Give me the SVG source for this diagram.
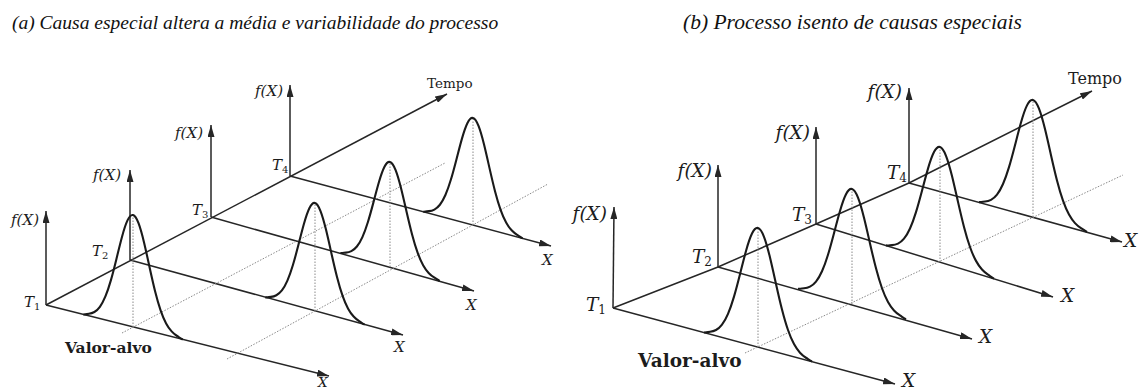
<svg xmlns="http://www.w3.org/2000/svg" width="1140" height="391" viewBox="0 0 1140 391">
<defs>
<style>
.axa{stroke:#262626;stroke-width:1.5;fill:none;marker-end:url(#ah)}
.cv{stroke:#1a1a1a;stroke-width:2.1;fill:none}
.dt{stroke:#8a8a8a;stroke-width:1;stroke-dasharray:1.5 1.5;fill:none}
.lab{font-family:"DejaVu Serif","Liberation Serif",serif;fill:#1c1c1c}
.it{font-style:italic}
.fa{font-size:15px}
.fb{font-size:18.5px}
.sa{font-size:10px;font-style:normal}
.sb{font-size:12px;font-style:normal}
.title{font-family:"Liberation Serif","Times New Roman",serif;font-style:italic;fill:#111}
.va{font-weight:bold}
</style>
<marker id="ah" markerUnits="userSpaceOnUse" markerWidth="13" markerHeight="7" refX="12" refY="3.5" orient="auto"><path d="M0,0 L12,3.5 L0,7 z" fill="#262626"/></marker>
<path id="bell" vector-effect="non-scaling-stroke" d="M-54,0 C-52,-0.3 -50,-1.24 -48,-1.86 C-46,-2.48 -44,-3.36 -42,-4.73 C-40,-6.10 -38,-7.97 -36,-10.62 C-34,-13.27 -32,-16.70 -30,-21.08 C-28,-25.46 -26,-30.79 -24,-36.92 C-22,-43.05 -20,-49.98 -18,-57.09 C-16,-64.20 -14,-71.48 -12,-77.95 C-10,-84.42 -8,-90.06 -6,-93.96 C-4,-97.86 -2,-100 0,-100 C2,-100 4,-97.86 6,-93.96 C8,-90.06 10,-84.42 12,-77.95 C14,-71.48 16,-64.20 18,-57.09 C20,-49.98 22,-43.05 24,-36.92 C26,-30.79 28,-25.46 30,-21.08 C32,-16.70 34,-13.27 36,-10.62 C38,-7.97 40,-6.10 42,-4.73 C44,-3.36 46,-2.48 48,-1.86 C50,-1.24 52,-0.3 54,0"/>
</defs>
<rect width="1140" height="391" fill="#ffffff"/>

<g id="titles">
<text class="title" x="12" y="29" font-size="19.5">(a) Causa especial altera a média e variabilidade do processo</text>
<text class="title" x="683" y="29" font-size="21.5">(b) Processo isento de causas especiais</text>
</g>

<!-- Panel (a) -->
<g id="panel-a">
<g id="a-connectors">
<line class="axa" x1="46" y1="305" x2="447" y2="94"/>
<line class="axa" x1="46" y1="305" x2="46" y2="211"/>
<line class="axa" x1="130" y1="260" x2="130" y2="170"/>
<line class="axa" x1="211" y1="217" x2="211" y2="125"/>
<line class="axa" x1="290" y1="176" x2="290" y2="85"/>
<line class="axa" x1="46" y1="305" x2="329" y2="376"/>
<line class="axa" x1="130" y1="260" x2="403" y2="335"/>
<line class="axa" x1="211" y1="217" x2="474" y2="291"/>
<line class="axa" x1="290" y1="176" x2="551" y2="246"/>
<line class="dt" x1="122" y1="333" x2="445" y2="163"/>
<line class="dt" x1="227" y1="359" x2="548" y2="184"/>
<line class="dt" x1="133" y1="327" x2="133" y2="215"/>
<line class="dt" x1="315" y1="311" x2="315" y2="203"/>
<line class="dt" x1="390" y1="267" x2="390" y2="162"/>
<line class="dt" x1="473" y1="225" x2="473" y2="118"/>
</g>
<g id="a-curve-1"><use href="#bell" class="cv" transform="matrix(0.92,0.231,0,1.12,133,327)"/></g>
<g id="a-curve-2"><use href="#bell" class="cv" transform="matrix(0.92,0.253,0,1.08,315,311)"/></g>
<g id="a-curve-3"><use href="#bell" class="cv" transform="matrix(0.92,0.259,0,1.05,390,267)"/></g>
<g id="a-curve-4"><use href="#bell" class="cv" transform="matrix(0.92,0.247,0,1.07,473,225)"/></g>
<g id="a-labels" class="lab">
<text class="it fa" x="39" y="225" text-anchor="end">f(X)</text>
<text class="it fa" x="121" y="180" text-anchor="end">f(X)</text>
<text class="it fa" x="203" y="138" text-anchor="end">f(X)</text>
<text class="it fa" x="283" y="96" text-anchor="end">f(X)</text>
<text class="it fa" x="24" y="307">T<tspan class="sa" dy="3">1</tspan></text>
<text class="it fa" x="92" y="256">T<tspan class="sa" dy="3">2</tspan></text>
<text class="it fa" x="192" y="215">T<tspan class="sa" dy="3">3</tspan></text>
<text class="it fa" x="272" y="170">T<tspan class="sa" dy="3">4</tspan></text>
<text class="it" x="318" y="387" font-size="13.5">X</text>
<text class="it fa" x="394" y="352">X</text>
<text class="it fa" x="466" y="310">X</text>
<text class="it fa" x="542" y="265">X</text>
<text x="427" y="88" font-size="13.5">Tempo</text>
<text class="va" x="65" y="353" font-size="15.5">Valor-alvo</text>
</g>
</g>

<!-- Panel (b) -->
<g id="panel-b">
<g id="b-connectors">
<polyline class="axa" points="613,308 718,267 816,224 909,183 1092,91"/>
<line class="axa" x1="613" y1="308" x2="614" y2="207"/>
<line class="axa" x1="718" y1="267" x2="718" y2="165"/>
<line class="axa" x1="816" y1="224" x2="816" y2="127"/>
<line class="axa" x1="909" y1="183" x2="909" y2="88"/>
<line class="axa" x1="613" y1="308" x2="895" y2="384"/>
<line class="axa" x1="718" y1="267" x2="972" y2="339"/>
<line class="axa" x1="816" y1="224" x2="1053" y2="297"/>
<line class="axa" x1="909" y1="183" x2="1122" y2="242"/>
<line class="dt" x1="745" y1="353" x2="1123" y2="175"/>
<line class="dt" x1="758" y1="347" x2="758" y2="228"/>
<line class="dt" x1="852" y1="304" x2="852" y2="189"/>
<line class="dt" x1="940" y1="262" x2="940" y2="147"/>
<line class="dt" x1="1033" y1="217" x2="1033" y2="100"/>
</g>
<g id="b-curve-1"><use href="#bell" class="cv" transform="matrix(1,0.27,0,1.19,758,347)"/></g>
<g id="b-curve-2"><use href="#bell" class="cv" transform="matrix(1,0.283,0,1.15,852,304)"/></g>
<g id="b-curve-3"><use href="#bell" class="cv" transform="matrix(1,0.308,0,1.15,940,262)"/></g>
<g id="b-curve-4"><use href="#bell" class="cv" transform="matrix(1,0.277,0,1.17,1033,217)"/></g>
<g id="b-labels" class="lab">
<text class="it fb" x="607" y="220" text-anchor="end">f(X)</text>
<text class="it fb" x="712" y="177" text-anchor="end">f(X)</text>
<text class="it fb" x="810" y="139" text-anchor="end">f(X)</text>
<text class="it fb" x="902" y="98" text-anchor="end">f(X)</text>
<text class="it fb" x="586" y="311">T<tspan class="sb" dy="3">1</tspan></text>
<text class="it fb" x="692" y="263">T<tspan class="sb" dy="3">2</tspan></text>
<text class="it fb" x="792" y="221">T<tspan class="sb" dy="3">3</tspan></text>
<text class="it fb" x="887" y="179">T<tspan class="sb" dy="3">4</tspan></text>
<text class="it fb" x="902" y="387">X</text>
<text class="it fb" x="979" y="343">X</text>
<text class="it fb" x="1061" y="302">X</text>
<text class="it fb" x="1124" y="247">X</text>
<text x="1068" y="84" font-size="16">Tempo</text>
<text class="va" x="638" y="367" font-size="18.5">Valor-alvo</text>
</g>
</g>
</svg>
